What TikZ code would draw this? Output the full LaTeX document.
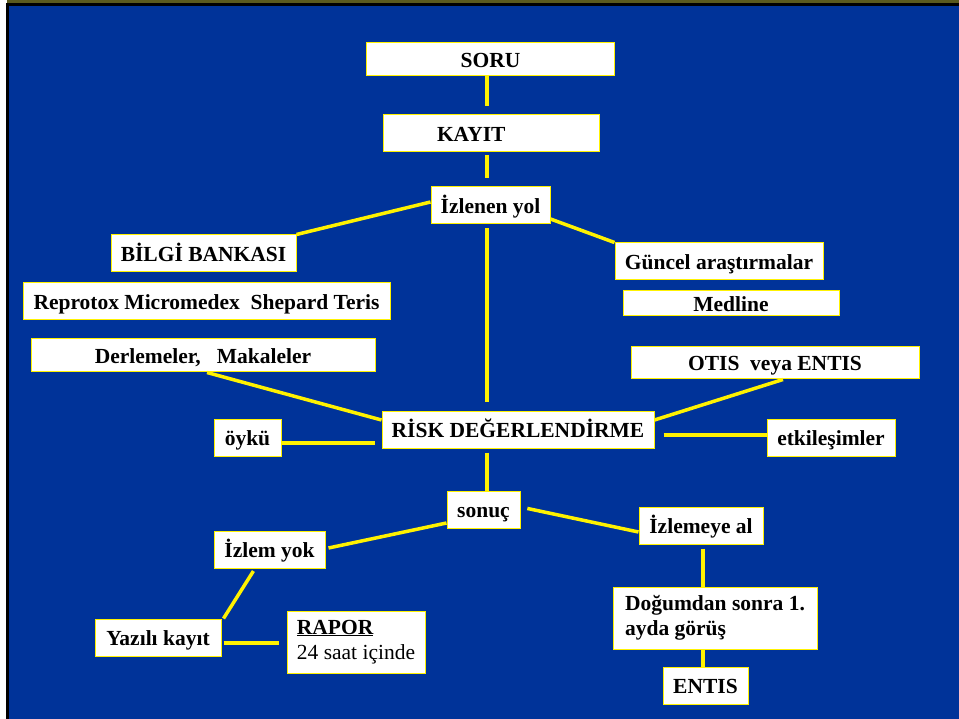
\documentclass[tikz,border=0pt]{standalone}
\usepackage{fontspec}
\setmainfont{Liberation Serif}
\usepackage{tikz}
\definecolor{slideblue}{RGB}{0,51,153}
\definecolor{slideolive}{RGB}{90,90,30}
\tikzset{
  frame/.style={draw=yellow, line width=1pt, fill=white, inner sep=0pt,
    font=\bfseries\fontsize{21.5}{25.5}\selectfont},
  box/.style={frame, text height=20.5pt, text depth=4.5pt},
  link/.style={draw=yellow, line width=3.5pt}
}
\begin{document}
\begin{tikzpicture}[x=1pt, y=-1pt]

    % Slide background and frame
    \useasboundingbox (0,0) rectangle (959,719);
    \fill[white] (0,0) rectangle (959,719);
    \fill[slideolive] (7,0) rectangle (959,3);
    \fill[black] (6,3) rectangle (959,719);
    \fill[slideblue] (9,6) rectangle (959,719);
    \coordinate (spine) at (487,0);

    % Boxes
    \node[box, minimum width=248pt, minimum height=33pt] (soru) at (490.5,59.5) {SORU};
    \node[box, minimum width=216pt, minimum height=37pt, text width=108pt,
      inner xsep=54pt, align=left] (kayit) at (491,133.5) {KAYIT};
    \node[box, minimum width=119pt, minimum height=37pt] (izlenen) at (490.5,205.5) {İzlenen yol};
    \node[box, minimum width=185pt, minimum height=37pt] (bilgi) at (203.5,253.5) {BİLGİ BANKASI};
    \node[box, minimum width=367pt, minimum height=37pt] (reprotox) at (206.5,301.5) {Reprotox Micromedex\ \ Shepard Teris};
    \node[box, minimum width=344pt, minimum height=33pt] (derleme) at (203,355.5) {Derlemeler,\ \ \ Makaleler};
    \node[box, minimum width=208pt, minimum height=37pt] (guncel) at (719,261.5) {Güncel araştırmalar};
    \node[box, minimum width=216pt, minimum height=25pt] (medline) at (731,303.5) {Medline};
    \node[box, minimum width=288pt, minimum height=32pt] (otis) at (775,363) {OTIS\ \ veya ENTIS};
    \node[box, minimum width=272pt, minimum height=37pt] (risk) at (518,429.5) {RİSK DEĞERLENDİRME};
    \node[box, minimum width=67pt, minimum height=37pt] (oyku) at (247.5,437.5) {öykü};
    \node[box, minimum width=128pt, minimum height=37pt] (etki) at (831,437.5) {etkileşimler};
    \node[box, minimum width=73pt, minimum height=37pt] (sonuc) at (483.5,509.5) {sonuç};
    \node[box, minimum width=111pt, minimum height=37pt] (izlemyok) at (269.5,549.5) {İzlem yok};
    \node[box, minimum width=124pt, minimum height=37pt] (izlemeye) at (701,525.5) {İzlemeye al};
    \node[box, minimum width=126pt, minimum height=37pt] (yazili) at (158,637.5) {Yazılı kayıt};
    \node[frame, minimum width=138pt, minimum height=62pt, align=left] (rapor) at (356,642)
      {\underline{RAPOR}\\\mdseries 24 saat içinde};
    \node[frame, minimum width=204pt, minimum height=62pt, align=left] (dogum) at (715,618)
      {Doğumdan sonra 1.\\ayda görüş};
    \node[box, minimum width=85pt, minimum height=37pt] (entis) at (705.5,685.5) {ENTIS};

    % Main vertical line
    \draw[link, shorten >=8pt] (soru.south -| spine) -- (kayit.north -| spine);
    \draw[link, shorten <=3pt, shorten >=8pt] (kayit.south -| spine) -- (izlenen.north -| spine);
    \draw[link, shorten <=4pt, shorten >=8pt] (izlenen.south -| spine) -- (risk.north -| spine);
    \draw[link, shorten <=4pt] (risk.south -| spine) -- (sonuc.north -| spine);

    % Sources
    \draw[link] ([yshift=3.5pt]izlenen.west) -- (bilgi.north east);
    \draw[link] ([yshift=-13.5pt]izlenen.east) -- (guncel.north west);

    % Inputs of the risk assessment
    \draw[link] ([xshift=4pt]derleme.south) -- ([yshift=9.5pt]risk.west);
    \draw[link, shorten >=7pt] ([yshift=-5.5pt]oyku.east) -- ([yshift=-5.5pt]oyku.east -| risk.west);
    \draw[link] ([yshift=9.5pt]risk.east) -- ([xshift=8pt]otis.south);
    \draw[link, shorten <=9pt] ([yshift=2.5pt]etki.west -| risk.east) -- ([yshift=2.5pt]etki.west);

    % Outcome branches
    \draw[link] ([yshift=-13.5pt]sonuc.west) -- ([xshift=3pt,yshift=1.5pt]izlemyok.east);
    \draw[link, shorten <=7pt] ([yshift=2.5pt]sonuc.east) -- ([yshift=-6.5pt]izlemeye.west);
    \draw[link, shorten <=3pt] ([xshift=-14.5pt]izlemyok.south) -- ([xshift=2pt]yazili.north east);
    \draw[link, shorten <=2pt, shorten >=8pt] ([yshift=-5.5pt]yazili.east) -- ([yshift=-5.5pt]yazili.east -| rapor.west);
    \draw[link, shorten <=4pt] ([xshift=2pt]izlemeye.south) -- ([xshift=2pt]izlemeye.south |- dogum.north);
    \draw[link] ([xshift=-12pt]dogum.south) -- ([xshift=-12pt]dogum.south |- entis.north);

\end{tikzpicture}
\end{document}
